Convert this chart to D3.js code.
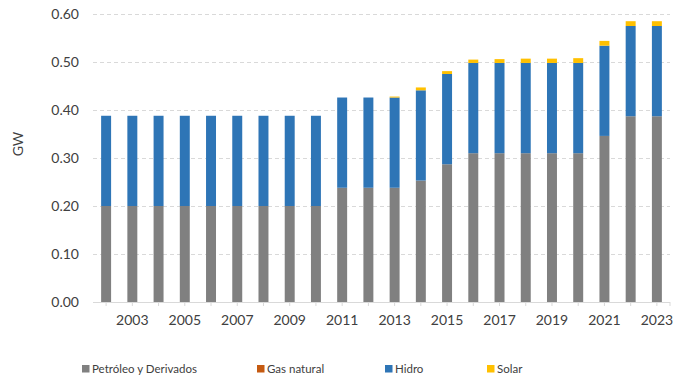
<!DOCTYPE html>
<html>
<head>
<meta charset="utf-8">
<script src="https://cdn.jsdelivr.net/npm/d3@7"></script>
<style>
  html, body { margin: 0; padding: 0; background: #fff; }
  svg { display: block; font-family: Lato, "Open Sans", sans-serif; }
</style>
</head>
<body>
<svg id="chart" width="691" height="378"></svg>
<script>
// Installed capacity by source (GW), 2002–2023
const years = ["2002","2003","2004","2005","2006","2007","2008","2009","2010","2011","2012","2013",
               "2014","2015","2016","2017","2018","2019","2020","2021","2022","2023"];
const petroleo = [0.200,0.200,0.200,0.200,0.200,0.200,0.200,0.200,0.200,0.238,0.238,0.238,
                  0.253,0.287,0.310,0.310,0.310,0.310,0.310,0.346,0.387,0.387];
const gasNatural = [0,0,0,0,0,0,0,0,0,0,0,0,0,0,0,0,0,0,0,0,0,0];
const hidro = [0.188,0.188,0.188,0.188,0.188,0.188,0.188,0.188,0.188,0.188,0.188,0.188,
               0.188,0.188,0.188,0.188,0.188,0.188,0.188,0.188,0.188,0.188];
const solar = [0,0,0,0,0,0,0,0,0,0,0,0.002,0.006,0.006,0.007,0.008,0.009,0.009,0.010,0.010,0.010,0.010];
const yTicks = [0,0.1,0.2,0.3,0.4,0.5,0.6];
const seriesNames = ["Petróleo y Derivados","Gas natural","Hidro","Solar"];
const seriesColors = ["#808080","#c55a11","#2e75b6","#ffc000"];

const rows = years.map((y, i) => ({
  year: y,
  "Petróleo y Derivados": petroleo[i],
  "Gas natural": gasNatural[i],
  "Hidro": hidro[i],
  "Solar": solar[i]
}));

const svg = d3.select("#chart");
const m = { left: 93, right: 21, top: 14, bottom: 76 };
const W = 691, H = 378;

const x = d3.scaleBand().domain(years).range([m.left, W - m.right]).paddingInner(0.62).paddingOuter(0.31);
const y = d3.scaleLinear().domain([0, 0.6]).range([H - m.bottom, m.top]);

// dashed horizontal gridlines
svg.append("g").selectAll("line").data(yTicks.filter(d => d > 0)).join("line")
  .attr("x1", m.left).attr("x2", W - m.right)
  .attr("y1", d => Math.round(y(d)) + 0.5).attr("y2", d => Math.round(y(d)) + 0.5)
  .attr("stroke", "#d9d9d9").attr("stroke-width", 1.2).attr("stroke-dasharray", "4,3");

// stacked bars
const stack = d3.stack().keys(seriesNames)(rows);
svg.append("g").selectAll("g").data(stack).join("g")
  .attr("fill", (d, i) => seriesColors[i])
  .selectAll("rect").data(d => d).join("rect")
  .attr("x", d => x(d.data.year))
  .attr("width", x.bandwidth())
  .attr("y", d => y(d[1]))
  .attr("height", d => Math.max(0, y(d[0]) - y(d[1])));

// x axis
const xAxis = d3.axisBottom(x)
  .tickFormat(d => (+d % 2 === 1) ? d : "")
  .tickSize(4).tickSizeOuter(0);
const gx = svg.append("g").attr("transform", `translate(0,${y(0)})`).call(xAxis);
gx.select(".domain").attr("stroke", "#d9d9d9").attr("stroke-width", 1.2)
  .attr("d", `M${m.left},0.5H${W - m.right}`);
gx.selectAll(".tick line").attr("stroke", "#d9d9d9");
// closing tick at the right end of the axis
gx.append("line").attr("x1", W - m.right).attr("x2", W - m.right).attr("y1", 0).attr("y2", 4).attr("stroke", "#d9d9d9");
gx.selectAll(".tick text").attr("fill", "#404040").attr("font-size", 14).attr("dy", "1.15em")
  .attr("font-family", "Lato, 'Open Sans', sans-serif");

// y axis labels
const gy = svg.append("g").attr("transform", `translate(${m.left},0)`)
  .call(d3.axisLeft(y).tickValues(yTicks).tickFormat(d3.format(".2f")).tickSize(0).tickPadding(14));
gy.select(".domain").remove();
gy.selectAll(".tick text").attr("fill", "#404040").attr("font-size", 14)
  .attr("font-family", "Lato, 'Open Sans', sans-serif");

// y axis title
svg.append("text")
  .attr("transform", "translate(23,144) rotate(-90)")
  .attr("text-anchor", "middle").attr("fill", "#404040").attr("font-size", 14)
  .text("GW");

// legend
const legendX = [82, 257, 385, 487];
const lg = svg.append("g").selectAll("g").data(seriesNames).join("g")
  .attr("transform", (d, i) => `translate(${legendX[i]},365)`);
lg.append("rect").attr("width", 7.5).attr("height", 7.5).attr("fill", (d, i) => seriesColors[i]);
lg.append("text").attr("x", 10).attr("y", 7.8).attr("fill", "#404040").attr("font-size", 11.5)
  .text(d => d);
</script>
</body>
</html>
